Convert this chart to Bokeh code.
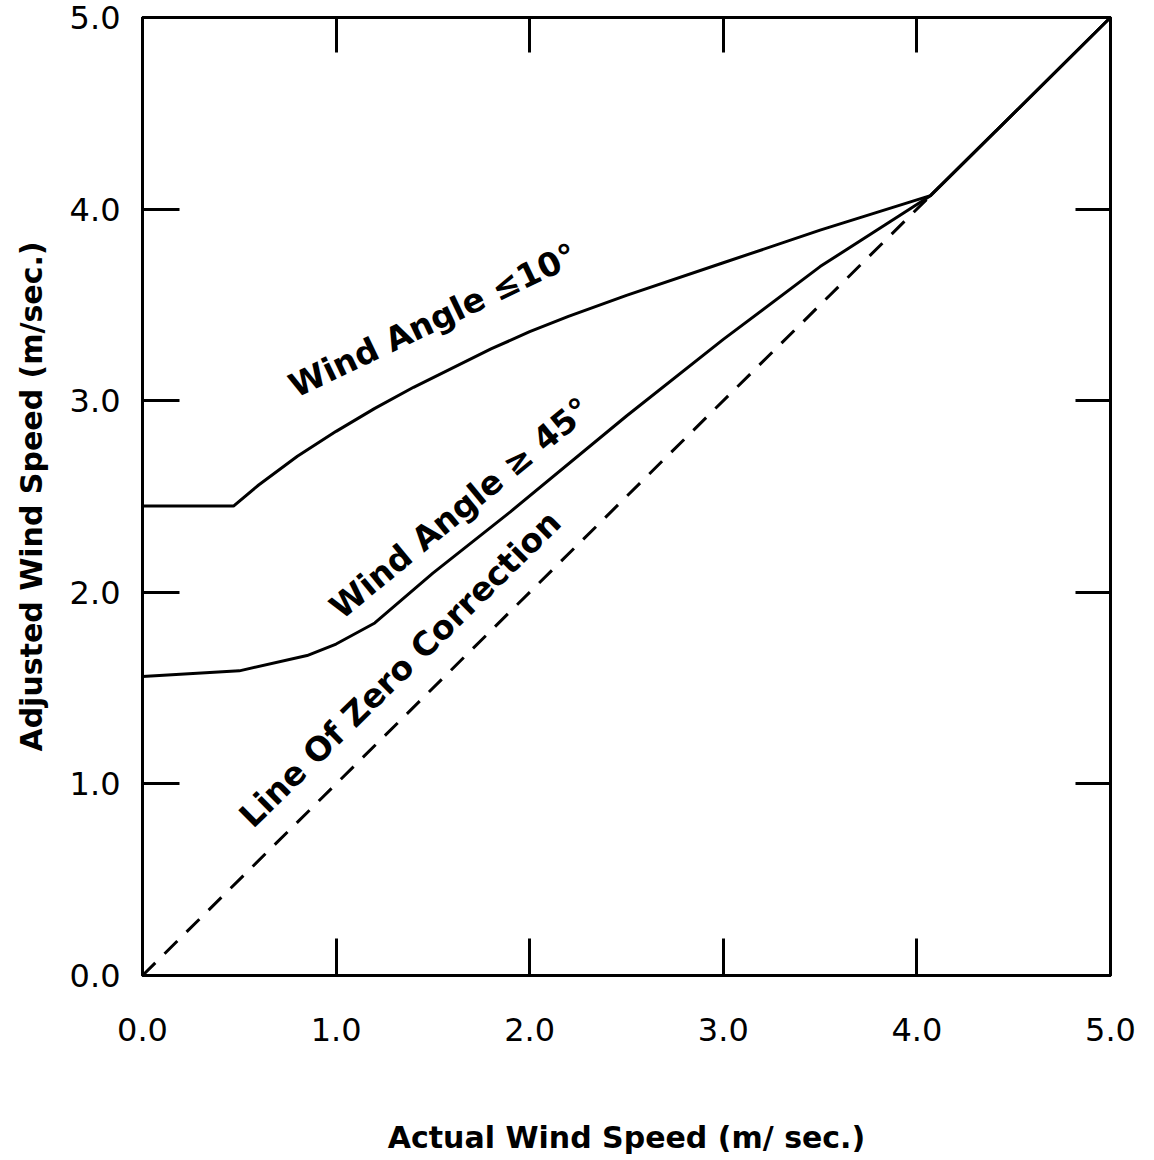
from bokeh.plotting import figure
from bokeh.models import Range1d, LinearAxis, FixedTicker, Label
from bokeh.embed import file_html
from bokeh.resources import INLINE

# ---- data ----
tick_values = [0, 1, 2, 3, 4, 5]
tick_labels = ["0.0", "1.0", "2.0", "3.0", "4.0", "5.0"]

upper_x = [0.0, 0.47, 0.6, 0.8, 1.0, 1.2, 1.4, 1.6, 1.8, 2.0, 2.2, 2.5, 3.0, 3.5, 4.07, 5.0]
upper_y = [2.45, 2.45, 2.56, 2.71, 2.84, 2.96, 3.07, 3.17, 3.27, 3.36, 3.44, 3.55, 3.72, 3.89, 4.07, 5.0]

mid_x = [0.0, 0.5, 0.85, 1.0, 1.2, 1.5, 1.9, 2.5, 3.0, 3.5, 4.07, 5.0]
mid_y = [1.56, 1.59, 1.67, 1.73, 1.84, 2.10, 2.42, 2.92, 3.32, 3.70, 4.07, 5.0]

zero_x = [0.0, 4.07]
zero_y = [0.0, 4.07]

label_upper = "Wind Angle ≤10°"
label_mid = "Wind Angle ≥ 45°"
label_zero = "Line Of Zero Correction"
x_title = "Actual Wind Speed (m/ sec.)"
y_title = "Adjusted Wind Speed (m/sec.)"

FONT = "DejaVu Sans"

p = figure(
    frame_width=968, frame_height=958,
    min_border_left=142, min_border_right=30, min_border_top=17, min_border_bottom=177,
    x_range=Range1d(0, 5), y_range=Range1d(0, 5),
    output_backend="svg", toolbar_location=None,
    background_fill_color="white", border_fill_color="white",
)
p.grid.visible = False
p.outline_line_color = "black"
p.outline_line_width = 3

overrides = {v: s for v, s in zip(tick_values, tick_labels)}

for ax in (p.xaxis[0], p.yaxis[0]):
    ax.ticker = FixedTicker(ticks=tick_values)
    ax.major_label_overrides = overrides
    ax.major_tick_in = 37
    ax.major_tick_out = 0
    ax.minor_tick_line_color = None
    ax.major_tick_line_width = 3
    ax.axis_line_width = 3
    ax.major_label_text_font = FONT
    ax.major_label_text_font_size = "32px"
    ax.major_label_text_color = "black"
    ax.axis_label_text_font = FONT
    ax.axis_label_text_font_style = "bold"
    ax.axis_label_text_font_size = "30px"
    ax.axis_label_text_color = "black"

p.xaxis.axis_label = x_title
p.yaxis.axis_label = y_title
p.xaxis.major_label_standoff = 42
p.yaxis.major_label_standoff = 22
p.xaxis.axis_label_standoff = 76
p.yaxis.axis_label_standoff = 18

blank = {v: "" for v in tick_values}
for loc in ("above", "right"):
    ax = LinearAxis(
        ticker=FixedTicker(ticks=tick_values),
        major_label_overrides=blank,
        major_tick_in=35, major_tick_out=0,
        minor_tick_line_color=None,
        major_tick_line_width=3, axis_line_width=3,
        major_label_standoff=0,
    )
    p.add_layout(ax, loc)

p.line(upper_x, upper_y, line_color="black", line_width=3)
p.line(mid_x, mid_y, line_color="black", line_width=3)
p.line(zero_x, zero_y, line_color="black", line_width=3, line_dash="18 13")

for txt, x, y, ang in [
    (label_upper, 1.50, 3.42, 25.5),
    (label_mid, 1.64, 2.44, 39.5),
    (label_zero, 1.33, 1.60, 44.5),
]:
    p.add_layout(Label(
        x=x, y=y, text=txt, angle=ang, angle_units="deg",
        text_align="center", text_baseline="middle",
        text_font=FONT, text_font_style="bold",
        text_font_size="33px", text_color="black",
    ))

open("out.html", "w").write(file_html(p, INLINE))
